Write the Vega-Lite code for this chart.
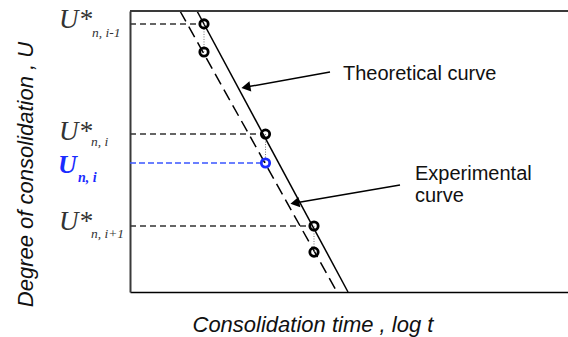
{
  "$schema": "https://vega.github.io/schema/vega-lite/v6.json",
  "width": 438,
  "height": 281,
  "autosize": {"type": "none"},
  "padding": {"left": 130, "top": 11, "right": 0, "bottom": 45},
  "background": "white",
  "config": {"view": {"stroke": null}},
  "datasets": {
    "curves": [
      {"curve": "Theoretical", "logt": 0.67, "U": 0},
      {"curve": "Theoretical", "logt": 2.18, "U": 100},
      {"curve": "Experimental", "logt": 0.50, "U": 0},
      {"curve": "Experimental", "logt": 2.07, "U": 100}
    ],
    "guides": [
      {"id": "i-1", "logt": 0, "U": 4.6},
      {"id": "i-1", "logt": 0.69, "U": 4.6},
      {"id": "i", "logt": 0, "U": 43.8},
      {"id": "i", "logt": 1.30, "U": 43.8},
      {"id": "i+1", "logt": 0, "U": 76.5},
      {"id": "i+1", "logt": 1.79, "U": 76.5}
    ],
    "blueGuide": [
      {"logt": 0, "U": 54.1},
      {"logt": 1.31, "U": 54.1}
    ],
    "pairs": [
      {"id": "i-1", "logt": 0.74, "U": 4.6},
      {"id": "i-1", "logt": 0.74, "U": 14.6},
      {"id": "i", "logt": 1.355, "U": 43.8},
      {"id": "i", "logt": 1.355, "U": 54.1},
      {"id": "i+1", "logt": 1.84, "U": 76.5},
      {"id": "i+1", "logt": 1.84, "U": 85.8}
    ],
    "points": [
      {"kind": "theory", "logt": 0.74, "U": 4.6},
      {"kind": "theory", "logt": 1.355, "U": 43.8},
      {"kind": "theory", "logt": 1.84, "U": 76.5},
      {"kind": "exp", "logt": 0.74, "U": 14.6},
      {"kind": "blue", "logt": 1.355, "U": 54.1},
      {"kind": "exp", "logt": 1.84, "U": 85.8}
    ],
    "arrows": [
      {"name": "Theoretical", "logt": 2.00, "U": 21.7, "logt2": 1.159, "U2": 27.08},
      {"name": "Experimental", "logt": 2.70, "U": 61.9, "logt2": 1.649, "U2": 68.3}
    ],
    "notes": [
      {"text": "Theoretical curve", "logt": 2.13, "U": 24.6},
      {"text": "Experimental", "logt": 2.85, "U": 60.1},
      {"text": "curve", "logt": 2.85, "U": 68.0}
    ],
    "labels": [
      {"role": "main", "text": "U*", "logt": -0.71, "U": 6.05},
      {"role": "sub", "text": "n, i-1", "logt": -0.38, "U": 9.2},
      {"role": "main", "text": "U*", "logt": -0.71, "U": 45.9},
      {"role": "sub", "text": "n, i", "logt": -0.39, "U": 48.0},
      {"role": "main", "text": "U*", "logt": -0.71, "U": 77.9},
      {"role": "sub", "text": "n, i+1", "logt": -0.39, "U": 80.7},
      {"role": "blueMain", "text": "U", "logt": -0.72, "U": 57.65},
      {"role": "blueSub", "text": "n, i", "logt": -0.52, "U": 61.0}
    ]
  },
  "layer": [
    {
      "data": {"name": "curves"},
      "transform": [{"filter": "datum.curve === 'Theoretical'"}],
      "mark": {"type": "line", "color": "#000", "strokeWidth": 1.5},
      "encoding": {
        "x": {
          "field": "logt", "type": "quantitative",
          "scale": {"domain": [0, 4.38], "nice": false, "zero": false},
          "axis": {
            "domain": true, "domainColor": "#000", "domainWidth": 1.5,
            "ticks": false, "labels": false, "grid": false,
            "title": "Consolidation time , log t",
            "titleFont": "Liberation Sans", "titleFontStyle": "italic", "titleFontWeight": "normal",
            "titleFontSize": 22, "titleColor": "#111",
            "titleX": 62, "titleY": 39, "titleAlign": "left", "titleBaseline": "alphabetic", "titleAngle": 0
          }
        },
        "y": {
          "field": "U", "type": "quantitative",
          "scale": {"domain": [0, 100], "nice": false, "zero": false, "reverse": true},
          "axis": {
            "domain": true, "domainColor": "#3a3a3a", "domainWidth": 2,
            "ticks": false, "labels": false, "grid": false,
            "title": "Degree of consolidation , U",
            "titleFont": "Liberation Sans", "titleFontStyle": "italic", "titleFontWeight": "normal",
            "titleFontSize": 22, "titleColor": "#111",
            "titleX": -98, "titleY": 163, "titleAlign": "center", "titleBaseline": "alphabetic", "titleAngle": 270
          }
        }
      }
    },
    {
      "data": {"name": "curves"},
      "transform": [{"filter": "datum.curve === 'Experimental'"}],
      "mark": {"type": "line", "color": "#000", "strokeWidth": 1.5, "strokeDash": [12, 6]},
      "encoding": {
        "x": {"field": "logt", "type": "quantitative"},
        "y": {"field": "U", "type": "quantitative"}
      }
    },
    {
      "data": {"name": "guides"},
      "mark": {"type": "line", "color": "#333", "strokeWidth": 1.5, "strokeDash": [6, 4]},
      "encoding": {
        "x": {"field": "logt", "type": "quantitative"},
        "y": {"field": "U", "type": "quantitative"},
        "detail": {"field": "id"}
      }
    },
    {
      "data": {"name": "blueGuide"},
      "mark": {"type": "line", "color": "#3a55ff", "strokeWidth": 1.3, "strokeDash": [6, 3]},
      "encoding": {
        "x": {"field": "logt", "type": "quantitative"},
        "y": {"field": "U", "type": "quantitative"}
      }
    },
    {
      "data": {"name": "pairs"},
      "mark": {"type": "line", "color": "#777", "strokeWidth": 1, "strokeDash": [1, 1.5]},
      "encoding": {
        "x": {"field": "logt", "type": "quantitative"},
        "y": {"field": "U", "type": "quantitative"},
        "detail": {"field": "id"}
      }
    },
    {
      "data": {"name": "points"},
      "transform": [{"filter": "datum.kind !== 'blue'"}],
      "mark": {"type": "point", "shape": "circle", "filled": false, "stroke": "#000", "strokeWidth": 2.8, "size": 70, "opacity": 1},
      "encoding": {
        "x": {"field": "logt", "type": "quantitative"},
        "y": {"field": "U", "type": "quantitative"}
      }
    },
    {
      "data": {"name": "points"},
      "transform": [{"filter": "datum.kind === 'blue'"}],
      "mark": {"type": "point", "shape": "circle", "filled": false, "stroke": "#1a2cff", "strokeWidth": 2.8, "size": 70, "opacity": 1},
      "encoding": {
        "x": {"field": "logt", "type": "quantitative"},
        "y": {"field": "U", "type": "quantitative"}
      }
    },
    {
      "data": {"name": "arrows"},
      "mark": {"type": "rule", "color": "#000", "strokeWidth": 1.5},
      "encoding": {
        "x": {"field": "logt", "type": "quantitative"},
        "y": {"field": "U", "type": "quantitative"},
        "x2": {"field": "logt2"},
        "y2": {"field": "U2"}
      }
    },
    {
      "data": {"name": "arrows"},
      "mark": {"type": "point", "shape": "triangle-left", "filled": true, "color": "#000", "size": 110, "angle": 350, "opacity": 1},
      "encoding": {
        "x": {"field": "logt2", "type": "quantitative"},
        "y": {"field": "U2", "type": "quantitative"}
      }
    },
    {
      "data": {"name": "notes"},
      "mark": {"type": "text", "font": "Liberation Sans", "fontSize": 20, "color": "#111", "align": "left", "baseline": "alphabetic"},
      "encoding": {
        "x": {"field": "logt", "type": "quantitative"},
        "y": {"field": "U", "type": "quantitative"},
        "text": {"field": "text"}
      }
    },
    {
      "data": {"name": "labels"},
      "transform": [{"filter": "datum.role === 'main'"}],
      "mark": {"type": "text", "font": "Liberation Serif", "fontStyle": "italic", "fontSize": 27, "color": "#333", "align": "left", "baseline": "alphabetic"},
      "encoding": {
        "x": {"field": "logt", "type": "quantitative"},
        "y": {"field": "U", "type": "quantitative"},
        "text": {"field": "text"}
      }
    },
    {
      "data": {"name": "labels"},
      "transform": [{"filter": "datum.role === 'sub'"}],
      "mark": {"type": "text", "font": "Liberation Serif", "fontStyle": "italic", "fontSize": 13.5, "color": "#333", "align": "left", "baseline": "alphabetic"},
      "encoding": {
        "x": {"field": "logt", "type": "quantitative"},
        "y": {"field": "U", "type": "quantitative"},
        "text": {"field": "text"}
      }
    },
    {
      "data": {"name": "labels"},
      "transform": [{"filter": "datum.role === 'blueMain'"}],
      "mark": {"type": "text", "font": "Liberation Serif", "fontStyle": "italic", "fontWeight": "bold", "fontSize": 26, "color": "#1a2cff", "align": "left", "baseline": "alphabetic"},
      "encoding": {
        "x": {"field": "logt", "type": "quantitative"},
        "y": {"field": "U", "type": "quantitative"},
        "text": {"field": "text"}
      }
    },
    {
      "data": {"name": "labels"},
      "transform": [{"filter": "datum.role === 'blueSub'"}],
      "mark": {"type": "text", "font": "Liberation Serif", "fontStyle": "italic", "fontWeight": "bold", "fontSize": 14, "color": "#1a2cff", "align": "left", "baseline": "alphabetic"},
      "encoding": {
        "x": {"field": "logt", "type": "quantitative"},
        "y": {"field": "U", "type": "quantitative"},
        "text": {"field": "text"}
      }
    },
    {
      "data": {"values": [{"U": 0}]},
      "mark": {"type": "rule", "color": "#3a3a3a", "strokeWidth": 2},
      "encoding": {
        "y": {"field": "U", "type": "quantitative"}
      }
    }
  ]
}
